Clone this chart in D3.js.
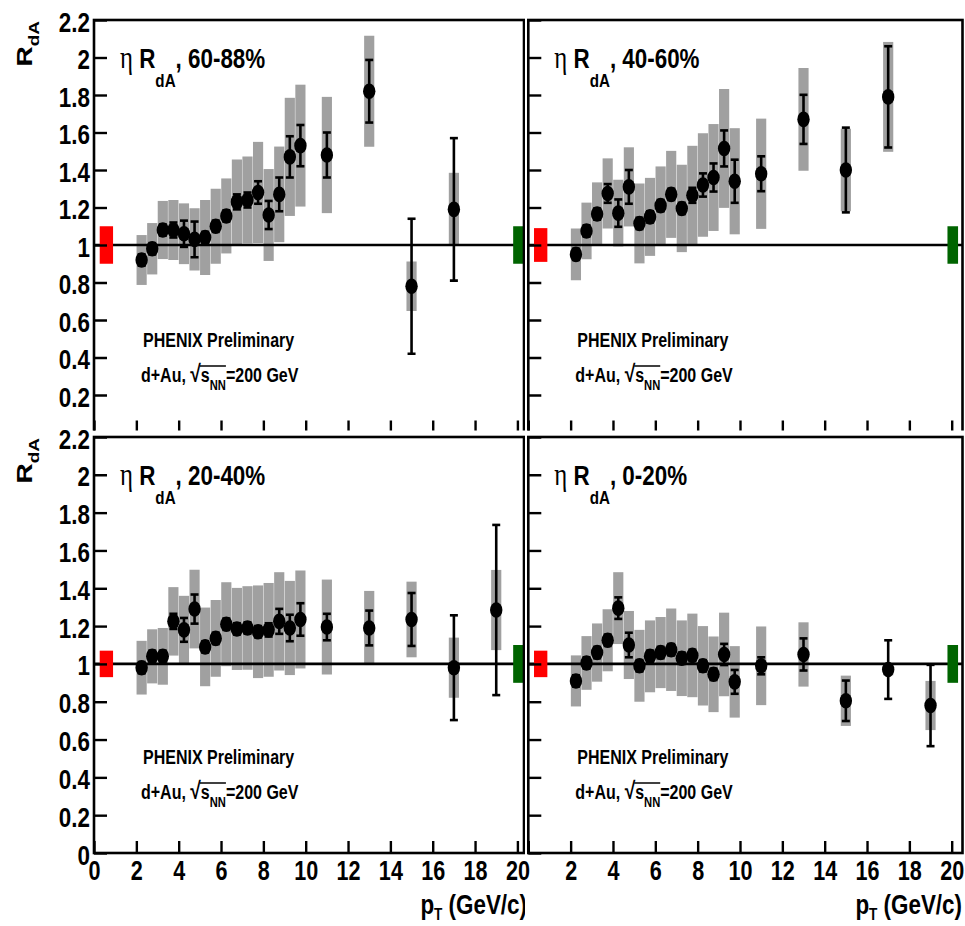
<!DOCTYPE html>
<html>
<head>
<meta charset="utf-8">
<script src="https://cdn.jsdelivr.net/npm/d3@7"></script>
<style>
  body { margin: 0; background: #fff; }
  svg { display: block; }
</style>
</head>
<body>
<div id="vis"></div>
<script>
// eta R_dA vs pT, four centrality classes (PHENIX preliminary)

// pT bin centres
const ptLow = [2.25, 2.75, 3.25, 3.75, 4.25, 4.75, 5.25, 5.75, 6.25, 6.75, 7.25, 7.75, 8.25, 8.75, 9.25, 9.75]
const ptTop = ptLow.concat([11, 13, 15, 17])
const ptBottom = ptLow.concat([11, 13, 15, 17, 19])

const centralities = ['60-88%', '40-60%', '20-40%', '0-20%']

// 60-88%
const rda_6088  = [0.92, 0.98, 1.08, 1.08, 1.06, 1.03, 1.04, 1.10, 1.155, 1.23, 1.24, 1.28, 1.16, 1.27, 1.47, 1.53, 1.48, 1.82, 0.78, 1.19]
const stat_6088 = [0.03, 0.03, 0.03, 0.04, 0.07, 0.095, 0.03, 0.03, 0.03, 0.04, 0.04, 0.06, 0.075, 0.09, 0.11, 0.11, 0.12, 0.167, 0.36, 0.38]
const sys_6088  = [0.133, 0.137, 0.155, 0.16, 0.162, 0.166, 0.2, 0.2, 0.2, 0.226, 0.232, 0.27, 0.245, 0.255, 0.315, 0.325, 0.31, 0.296, 0.132, 0.195]

// 40-60%
const rda_4060  = [0.95, 1.075, 1.165, 1.275, 1.17, 1.31, 1.115, 1.15, 1.21, 1.27, 1.195, 1.265, 1.32, 1.36, 1.515, 1.34, 1.38, 1.67, 1.40, 1.79]
const stat_4060 = [0.03, 0.03, 0.03, 0.05, 0.073, 0.09, 0.03, 0.03, 0.03, 0.03, 0.03, 0.04, 0.062, 0.075, 0.096, 0.115, 0.093, 0.131, 0.226, 0.27]
const sys_4060  = [0.138, 0.151, 0.169, 0.187, 0.178, 0.211, 0.213, 0.208, 0.209, 0.232, 0.233, 0.264, 0.276, 0.285, 0.317, 0.283, 0.294, 0.274, 0.22, 0.293]

// 20-40%
const rda_2040  = [0.98, 1.04, 1.04, 1.225, 1.18, 1.29, 1.09, 1.135, 1.21, 1.185, 1.19, 1.17, 1.18, 1.225, 1.19, 1.235, 1.195, 1.19, 1.235, 0.98, 1.285]
const stat_2040 = [0.03, 0.03, 0.03, 0.04, 0.063, 0.077, 0.03, 0.03, 0.03, 0.03, 0.03, 0.03, 0.035, 0.066, 0.07, 0.086, 0.07, 0.092, 0.14, 0.277, 0.45]
const sys_2040  = [0.142, 0.143, 0.15, 0.181, 0.18, 0.208, 0.208, 0.203, 0.222, 0.217, 0.221, 0.245, 0.248, 0.26, 0.249, 0.259, 0.251, 0.196, 0.2, 0.159, 0.212]

// 0-20%
const rda_0020  = [0.91, 1.005, 1.06, 1.125, 1.295, 1.10, 0.99, 1.04, 1.06, 1.075, 1.03, 1.045, 0.99, 0.945, 1.05, 0.905, 0.99, 1.05, 0.805, 0.97, 0.78]
const stat_0020 = [0.03, 0.03, 0.03, 0.03, 0.057, 0.065, 0.03, 0.03, 0.03, 0.03, 0.03, 0.03, 0.03, 0.03, 0.056, 0.063, 0.045, 0.085, 0.107, 0.155, 0.215]
const sys_0020  = [0.135, 0.142, 0.154, 0.164, 0.19, 0.18, 0.19, 0.19, 0.188, 0.218, 0.2, 0.221, 0.21, 0.2, 0.221, 0.189, 0.208, 0.17, 0.133, 0.03, 0.13]

// global normalisation boxes (half heights)
const normRed   = [0.10, 0.09, 0.07, 0.07]
const normGreen = [0.10, 0.10, 0.10, 0.10]

const yMajor = [0, 0.2, 0.4, 0.6, 0.8, 1, 1.2, 1.4, 1.6, 1.8, 2, 2.2]
const xMajor = [0, 2, 4, 6, 8, 10, 12, 14, 16, 18, 20]

// ---- layout
const W = 965, H = 926
const SX = 0.8                       // the original is squeezed horizontally
const sans = "'Liberation Sans', Arial, Helvetica, sans-serif"
const serif = "'Liberation Serif', 'Times New Roman', serif"
const colX0 = [94, 528.3]            // pixel of pT = 0
const colRight = [524, 962.5]        // right frame edge
const pxPerGeV = 21.17
const clipX = [[0, 525], [525, W]]
const rowY0 = [432.5, 853]           // pixel of R = 0
const rowY22 = [20, 437]             // pixel of R = 2.2
const clipY = [[0, 430.5], [430.5, H]]
const GRAY = '#a0a0a0'

const panels = [
  { pt: ptTop,    rda: rda_6088, stat: stat_6088, sys: sys_6088 },
  { pt: ptTop,    rda: rda_4060, stat: stat_4060, sys: sys_4060 },
  { pt: ptBottom, rda: rda_2040, stat: stat_2040, sys: sys_2040 },
  { pt: ptBottom, rda: rda_0020, stat: stat_0020, sys: sys_0020 }
]

const svg = d3.select('#vis').append('svg')
  .attr('width', W)
  .attr('height', H)
svg.append('rect').attr('width', W).attr('height', H).attr('fill', '#fff')
const defs = svg.append('defs')

const squeeze = (x, y) => `translate(${x},${y}) scale(${SX},1)`

panels.forEach((p, i) => {
  const col = i % 2, row = Math.floor(i / 2)
  const x = d3.scaleLinear().domain([0, 20]).range([colX0[col], colX0[col] + 20 * pxPerGeV])
  const y = d3.scaleLinear().domain([0, 2.2]).range([rowY0[row], rowY22[row]])
  const right = colRight[col]

  defs.append('clipPath').attr('id', 'clip' + i).append('rect')
    .attr('x', clipX[col][0]).attr('y', clipY[row][0])
    .attr('width', clipX[col][1] - clipX[col][0])
    .attr('height', clipY[row][1] - clipY[row][0])

  const g = svg.append('g').attr('clip-path', `url(#clip${i})`)
  const pts = p.pt.map((d, k) => ({ pt: d, v: p.rda[k], stat: p.stat[k], sys: p.sys[k] }))

  // systematic boxes
  g.append('g').selectAll('rect').data(pts).join('rect')
    .attr('x', d => x(d.pt - 0.24))
    .attr('width', d => x(d.pt + 0.24) - x(d.pt - 0.24))
    .attr('y', d => y(d.v + d.sys))
    .attr('height', d => y(d.v - d.sys) - y(d.v + d.sys))
    .attr('fill', GRAY)

  // unity line
  g.append('line')
    .attr('x1', x(0)).attr('x2', right)
    .attr('y1', y(1)).attr('y2', y(1))
    .attr('stroke', '#000').attr('stroke-width', 2.6)

  // normalisation boxes
  g.append('rect')
    .attr('x', x(0.27)).attr('width', x(0.9) - x(0.27))
    .attr('y', y(1 + normRed[i])).attr('height', y(1 - normRed[i]) - y(1 + normRed[i]))
    .attr('fill', '#ff0000')
  g.append('rect')
    .attr('x', x(19.8)).attr('width', x(20.3) - x(19.8))
    .attr('y', y(1 + normGreen[i])).attr('height', y(1 - normGreen[i]) - y(1 + normGreen[i]))
    .attr('fill', '#006400')

  // statistical error bars
  const eb = g.append('g').attr('stroke', '#000').attr('stroke-width', 2.6)
  eb.selectAll('line.bar').data(pts).join('line').attr('class', 'bar')
    .attr('x1', d => x(d.pt)).attr('x2', d => x(d.pt))
    .attr('y1', d => y(d.v + d.stat)).attr('y2', d => y(d.v - d.stat))
  eb.selectAll('line.capHi').data(pts).join('line').attr('class', 'capHi')
    .attr('x1', d => x(d.pt) - 4).attr('x2', d => x(d.pt) + 4)
    .attr('y1', d => y(d.v + d.stat)).attr('y2', d => y(d.v + d.stat))
  eb.selectAll('line.capLo').data(pts).join('line').attr('class', 'capLo')
    .attr('x1', d => x(d.pt) - 4).attr('x2', d => x(d.pt) + 4)
    .attr('y1', d => y(d.v - d.stat)).attr('y2', d => y(d.v - d.stat))

  // markers
  g.append('g').selectAll('ellipse').data(pts).join('ellipse')
    .attr('cx', d => x(d.pt)).attr('cy', d => y(d.v))
    .attr('rx', 6.2).attr('ry', 7.8)
    .attr('fill', '#000')

  // axes ticks (inside the frame)
  const yAx = g.append('g').attr('transform', `translate(${x(0)},0)`)
  yAx.call(d3.axisRight(y).tickValues(d3.range(0, 2.2001, 0.04)).tickSize(7).tickFormat(''))
  yAx.call(d3.axisRight(y).tickValues(yMajor).tickSize(13).tickFormat(''))
  const xAx = g.append('g').attr('transform', `translate(0,${y(0)})`)
  xAx.call(d3.axisTop(x).tickValues(d3.range(0, 20.001, 0.4)).tickSize(6).tickFormat(''))
  xAx.call(d3.axisTop(x).tickValues(xMajor).tickSize(12).tickFormat(''))
  g.selectAll('.domain').remove()
  g.selectAll('.tick line').attr('stroke', '#000').attr('stroke-width', 2.4)

  // frame
  g.append('rect')
    .attr('x', x(0)).attr('y', y(2.2))
    .attr('width', right - x(0)).attr('height', y(0) - y(2.2))
    .attr('fill', 'none').attr('stroke', '#000').attr('stroke-width', 2.6)

  // y tick labels (left column only)
  if (col === 0) {
    const yl = svg.append('g').attr('transform', `translate(${x(0)},0)`)
      .call(d3.axisLeft(y).tickValues(row === 0 ? yMajor.slice(1) : yMajor).tickSize(0).tickFormat(d3.format('~g')))
    yl.select('.domain').remove()
    yl.selectAll('text')
      .attr('x', null).attr('dy', null)
      .attr('transform', squeeze(-4, 11))
      .attr('text-anchor', 'end')
      .attr('font-family', sans).attr('font-weight', 'bold').attr('font-size', 28)
      .attr('fill', '#000')

    // y title
    const yt = svg.append('text')
      .attr('transform', squeeze(32, y(2.2) + 1) + ' rotate(-90)')
      .attr('text-anchor', 'end')
      .attr('font-family', sans).attr('font-weight', 'bold').attr('font-size', 28)
    yt.append('tspan').text('R')
    yt.append('tspan').attr('dy', 9).attr('font-size', 19).text('dA')
  }

  // x tick labels (bottom row only)
  if (row === 1) {
    const xl = svg.append('g').attr('transform', `translate(0,${y(0)})`)
      .call(d3.axisBottom(x).tickValues(col === 0 ? xMajor : xMajor.slice(1)).tickSize(0).tickFormat(d3.format('d')))
    xl.select('.domain').remove()
    xl.selectAll('text')
      .attr('y', null).attr('dy', null)
      .attr('transform', squeeze(0, 27))
      .attr('text-anchor', 'middle')
      .attr('font-family', sans).attr('font-weight', 'bold').attr('font-size', 27)
      .attr('fill', '#000')

    // x title
    const xt = svg.append('g').attr('clip-path', `url(#clip${i})`).append('text')
      .attr('transform', squeeze(col === 0 ? 527 : 962, 914))
      .attr('text-anchor', 'end')
      .attr('font-family', sans).attr('font-weight', 'bold').attr('font-size', 28)
    xt.append('tspan').text('p')
    xt.append('tspan').attr('dy', 6).attr('font-size', 17).text('T')
    xt.append('tspan').attr('dy', -6).text(' (GeV/c)')
  }

  // panel title
  const t = svg.append('text')
    .attr('transform', squeeze(x(0) + 26, y(2.2) + 48))
    .attr('font-family', sans).attr('font-weight', 'bold').attr('font-size', 28)
  t.append('tspan').attr('font-family', serif).attr('font-weight', 'normal').attr('font-size', 31).text('η')
  t.append('tspan').text(' R')
  t.append('tspan').attr('dy', 19).attr('font-size', 19).text('dA')
  t.append('tspan').attr('dy', -19).text(', ' + centralities[i])

  // PHENIX label
  svg.append('text')
    .attr('transform', squeeze(x(0) + 49, y(2.2) + 327))
    .attr('font-family', sans).attr('font-weight', 'bold').attr('font-size', 20)
    .text('PHENIX Preliminary')

  const base = y(2.2) + 362
  const s = svg.append('text')
    .attr('transform', squeeze(x(0) + 47, base))
    .attr('font-family', sans).attr('font-weight', 'bold').attr('font-size', 20)
  s.append('tspan').text('d+Au, ')
  const rad = s.append('tspan').attr('font-size', 24).text('√')
  s.append('tspan').text('s')
  const nn = s.append('tspan').attr('dy', 8).attr('font-size', 14).text('NN')
  s.append('tspan').attr('dy', -8).text('=200 GeV')

  // overline of the square root
  const r1 = rad.node().getBoundingClientRect()
  const r2 = nn.node().getBoundingClientRect()
  svg.append('line')
    .attr('x1', r1.right - 1).attr('x2', r2.right)
    .attr('y1', base - 16).attr('y2', base - 16)
    .attr('stroke', '#000').attr('stroke-width', 1.5)
})
</script>
</body>
</html>
